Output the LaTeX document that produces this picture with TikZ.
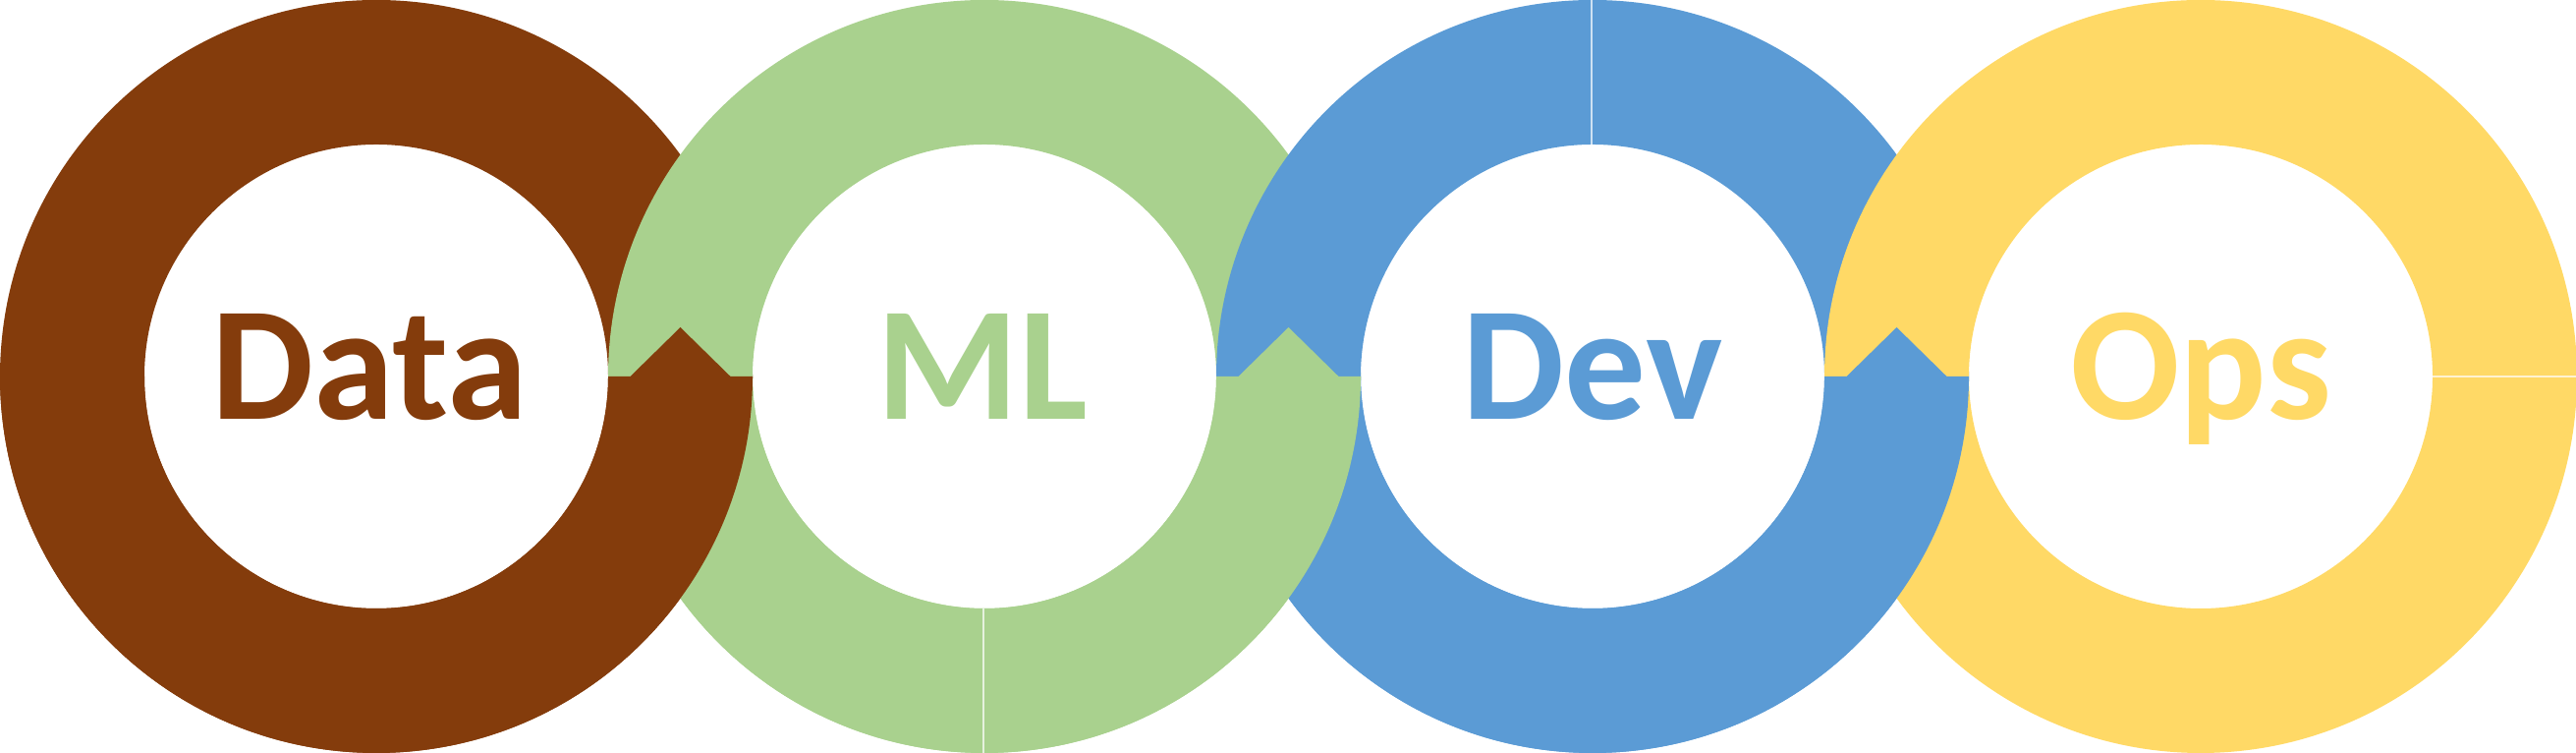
\documentclass[tikz,border=0pt]{standalone}
\usepackage{fontspec}
\setmainfont{Carlito}
\definecolor{databrown}{HTML}{843C0C}
\definecolor{mlgreen}{HTML}{A9D18E}
\definecolor{devblue}{HTML}{5B9BD5}
\definecolor{opsyellow}{HTML}{FFD966}
\newcommand{\ringfont}{\bfseries\fontsize{47pt}{56pt}\selectfont}
\tikzset{ring/.style = {even odd rule},
         ringlabel/.style = {anchor=base, inner sep=0pt, font=\ringfont},
         seam/.style = {draw=white, draw opacity=0.7, line width=0.4pt}}

\begin{document}
\begin{tikzpicture}
	\useasboundingbox (0,-3.83) rectangle (26.22,3.83);
	% full rings, left to right
	\fill[ring, databrown] (3.83,0) circle (3.83) (3.83,0) circle (2.36);
	\fill[ring, mlgreen] (10.02,0) circle (3.83) (10.02,0) circle (2.36);
	\fill[ring, devblue] (16.21,0) circle (3.83) (16.21,0) circle (2.36);
	\fill[ring, opsyellow] (22.40,0) circle (3.83) (22.40,0) circle (2.36);
	% lower halves on top, with the arrow tip
	\fill[devblue] (12.38,0) arc[start angle=180, end angle=360, radius=3.83] -- (19.815,0) -- (19.305,0.50) -- (18.795,0) -- (18.57,0) arc[start angle=0, end angle=-180, radius=2.36] -- cycle;
	\fill[mlgreen] (6.19,0) arc[start angle=180, end angle=360, radius=3.83] -- (13.625,0) -- (13.115,0.50) -- (12.605,0) -- (12.38,0) arc[start angle=0, end angle=-180, radius=2.36] -- cycle;
	\fill[databrown] (0,0) arc[start angle=180, end angle=360, radius=3.83] -- (7.435,0) -- (6.925,0.50) -- (6.415,0) -- (6.19,0) arc[start angle=0, end angle=-180, radius=2.36] -- cycle;
	% seams
	\draw[seam] (10.01,-2.36) -- (10.01,-3.83);
	\draw[seam] (16.20,2.36) -- (16.20,3.83);
	\draw[seam] (24.76,0) -- (26.23,0);
	\node[ringlabel, databrown] (data) at (3.76,-0.44) {Data};
	\node[ringlabel, mlgreen] (ml) at (10.00,-0.44) {ML};
	\node[ringlabel, devblue] (dev) at (16.21,-0.44) {Dev};
	\node[ringlabel, opsyellow] (ops) at (22.40,-0.44) {Ops};
\end{tikzpicture}
\end{document}
